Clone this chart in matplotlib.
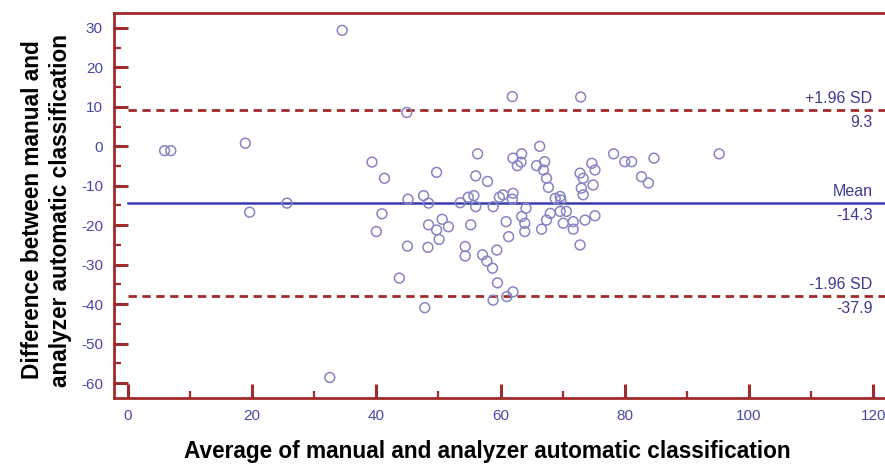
import matplotlib.pyplot as plt
from matplotlib.ticker import MultipleLocator

plt.rcParams['font.family'] = ['Liberation Sans', 'DejaVu Sans']
plt.rcParams['axes.unicode_minus'] = False

# average of the two methods (x) and their difference (y)
avg = [5.9, 6.9, 18.9, 19.6, 25.6, 32.5, 34.5, 39.3, 41.3, 40.9, 40.0, 43.7, 44.9, 47.8, 95.2,
       49.7, 56.3, 56.0, 57.9, 61.9, 72.9, 66.3, 63.4, 62.0, 63.3, 62.7, 65.8, 67.1, 66.9,
       67.4, 67.7, 72.8, 73.3, 73.0, 73.3, 74.7, 75.2, 74.9, 78.2, 80.0, 81.1, 84.7, 82.7, 83.8,
       45.1, 47.6, 48.4, 53.5, 54.8, 55.7, 56.0, 58.8, 59.8, 60.4, 62.0, 61.9, 64.1, 68.8,
       69.6, 69.7,
       48.4, 50.6, 51.6, 49.7, 50.1, 45.0, 48.3, 55.2, 60.9, 61.3, 63.4, 63.9, 63.9, 68.0,
       69.6, 70.6, 67.4, 70.1, 66.6, 71.7, 73.6, 75.2, 71.7, 72.8,
       54.3, 54.3, 57.1, 57.8, 59.4, 58.7, 59.5, 58.8, 61.0, 62.0]
diff = [-1.1, -1.1, 0.8, -16.7, -14.4, -58.6, 29.4, -4.0, -8.1, -17.1, -21.6, -33.4, 8.6, -40.9, -1.9,
        -6.6, -1.9, -7.5, -8.9, 12.6, 12.5, 0.0, -1.9, -3.0, -4.0, -4.9, -4.9, -3.9, -6.0,
        -8.1, -10.4, -6.8, -8.1, -10.6, -12.3, -4.3, -6.0, -9.8, -1.9, -3.9, -3.9, -3.0, -7.7, -9.3,
        -13.4, -12.5, -14.4, -14.3, -12.9, -12.5, -15.3, -15.3, -12.9, -12.3, -11.9, -13.4, -15.7, -13.2,
        -12.7, -13.6,
        -19.9, -18.5, -20.4, -21.2, -23.6, -25.3, -25.6, -19.9, -19.1, -22.9, -17.8, -19.5, -21.6, -17.0,
        -16.5, -16.5, -18.7, -19.5, -21.0, -19.1, -18.7, -17.6, -21.0, -25.0,
        -25.4, -27.8, -27.5, -29.1, -26.3, -30.9, -34.6, -39.0, -38.1, -36.9]

mean_diff = -14.3
upper_loa = 9.3
lower_loa = -37.9

red = '#a22a2a'
blue = '#3a3ab0'
txt_blue = '#3c3c90'

fig = plt.figure(figsize=(8.85, 4.69), dpi=100)
ax = fig.add_axes([0.1288, 0.1514, 0.8859, 0.8209])

ax.scatter(avg, diff, s=50, facecolors='none', edgecolors='#8585c4', linewidths=1.1, zorder=3)

ax.plot([0, 124], [mean_diff, mean_diff], '-', color=blue, lw=1.8, zorder=2)
ax.plot([0, 124], [upper_loa, upper_loa], '--', color=red, lw=2, dashes=(3, 2), zorder=2)
ax.plot([0, 124], [lower_loa, lower_loa], '--', color=red, lw=2, dashes=(3, 2), zorder=2)

for val, name in [(upper_loa, '+1.96 SD'), (mean_diff, 'Mean'), (lower_loa, '-1.96 SD')]:
    ax.text(119.9, val + 0.9, name, ha='right', va='bottom', color=txt_blue, fontsize=11.5)
    ax.text(119.9, val - 1.3, '%.1f' % val, ha='right', va='top', color=txt_blue, fontsize=11.5)

ax.set_xlim(-2.25, 124)
ax.set_ylim(-63.8, 33.8)

ax.xaxis.set_major_locator(MultipleLocator(20))
ax.xaxis.set_minor_locator(MultipleLocator(10))
ax.yaxis.set_major_locator(MultipleLocator(10))
ax.yaxis.set_minor_locator(MultipleLocator(5))
ax.set_yticks(range(-60, 31, 10))

for s in ax.spines.values():
    s.set_color(red)
    s.set_linewidth(2)

ax.tick_params(which='major', direction='in', length=10, width=2.2, color=red,
               labelcolor='#4848a8', labelsize=11, pad=8)
ax.tick_params(which='minor', direction='in', length=5, width=1.6, color=red)
ax.tick_params(top=False, right=False, which='both')

ax.set_xlabel('Average of manual and analyzer automatic classification',
              fontsize=16.3, fontweight='bold')
ax.xaxis.set_label_coords(0.476, -0.109)
ax.set_ylabel('Difference between manual and\nanalyzer automatic classification',
              fontsize=16.3, fontweight='bold', linespacing=1.25)
ax.yaxis.set_label_coords(-0.054, 0.488)

fig.savefig('out.png', dpi=100)
